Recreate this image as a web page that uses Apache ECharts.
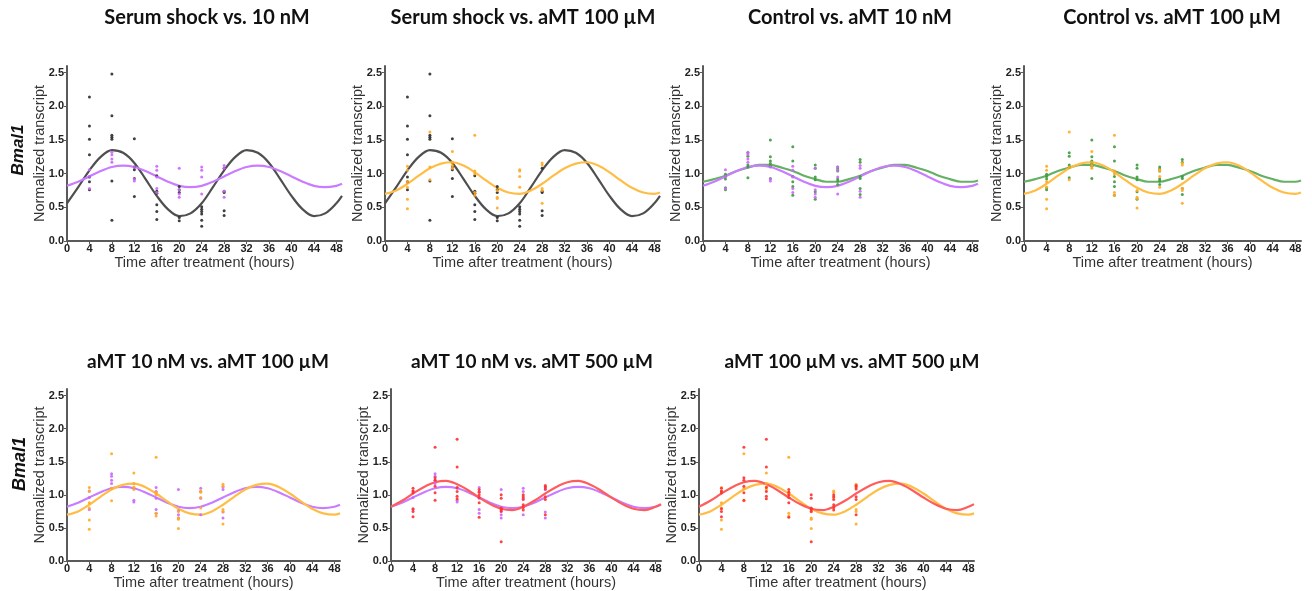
<!DOCTYPE html>
<html><head><meta charset="utf-8">
<script src="https://cdn.jsdelivr.net/npm/echarts@6/dist/echarts.min.js"></script>
<style>html,body{margin:0;padding:0;background:#fff}#c{width:1312px;height:591px}</style>
</head><body><div id="c"></div>
<script>
// ---- data ----
const sampleHours = [4, 8, 12, 16, 20, 24, 28];

const serumShockPts = [
  [2.14, 1.71, 1.51, 1.28, 0.95, 0.88, 0.76],
  [2.48, 1.86, 1.57, 1.54, 1.51, 0.89, 0.31],
  [1.52, 1.10, 1.06, 0.93, 0.66],
  [0.97, 0.74, 0.71, 0.54, 0.44, 0.32],
  [0.81, 0.76, 0.72, 0.35, 0.30],
  [0.51, 0.47, 0.44, 0.40, 0.31, 0.22],
  [1.08, 0.74, 0.72, 0.45, 0.38]
];
const aMT10nMPts = [
  [1.06, 0.96, 0.78],
  [1.32, 1.28, 1.22, 1.17],
  [1.10, 0.92, 0.89],
  [1.11, 1.05, 0.95, 0.78, 0.72],
  [1.08, 0.76, 0.70, 0.65],
  [1.10, 1.05, 0.95, 0.70],
  [1.12, 1.08, 0.74, 0.65]
];
const aMT100uMPts = [
  [1.11, 1.05, 0.88, 0.80, 0.62, 0.48],
  [1.62, 1.10, 0.91],
  [1.33, 1.17, 1.12, 1.08],
  [1.57, 1.04, 1.00, 0.72, 0.68],
  [0.75, 0.65, 0.63, 0.49],
  [1.06, 1.04, 0.96, 0.80],
  [1.16, 1.13, 0.78, 0.75, 0.56]
];
const controlPts = [
  [0.99, 0.96, 0.92, 0.79, 0.76],
  [1.31, 1.26, 1.13, 1.10, 0.94],
  [1.50, 1.25, 1.19, 1.15, 1.11, 0.93],
  [1.40, 1.19, 0.96, 0.88, 0.81, 0.68],
  [1.13, 1.08, 0.95, 0.91, 0.73, 0.62],
  [1.10, 1.07, 1.04, 0.92, 0.89, 0.84],
  [1.21, 1.17, 0.96, 0.93, 0.78, 0.69]
];
const aMT500uMPts = [
  [1.10, 1.06, 1.03, 0.79, 0.75, 0.67],
  [1.72, 1.26, 1.22, 1.13, 1.03, 0.92],
  [1.84, 1.42, 1.11, 1.05, 0.98, 0.94],
  [1.08, 1.04, 1.00, 0.96, 0.88, 0.66],
  [1.00, 0.95, 0.80, 0.78, 0.75, 0.29],
  [1.00, 0.97, 0.93, 0.85, 0.81, 0.77],
  [1.14, 1.12, 1.09, 0.97, 0.93, 0.70]
];

// fitted curves, read every 2 hours (plus the axis end at 49 h)
const fitHours = [0, 2, 4, 6, 8, 10, 12, 14, 16, 18, 20, 22, 24, 26, 28, 30, 32, 34, 36, 38, 40, 42, 44, 46, 48, 49];
const serumShockFit = [0.56, 0.80, 1.05, 1.25, 1.35, 1.31, 1.16, 0.92, 0.67, 0.47, 0.37, 0.41, 0.56, 0.80, 1.05, 1.25, 1.35, 1.31, 1.16, 0.92, 0.67, 0.47, 0.37, 0.41, 0.56, 0.67];
const aMT10nMFit = [0.82, 0.88, 0.96, 1.04, 1.10, 1.12, 1.10, 1.04, 0.96, 0.88, 0.82, 0.80, 0.82, 0.88, 0.96, 1.04, 1.10, 1.12, 1.10, 1.04, 0.96, 0.88, 0.82, 0.80, 0.82, 0.85];
const aMT100uMFit = [0.70, 0.75, 0.85, 0.97, 1.08, 1.15, 1.17, 1.12, 1.02, 0.90, 0.79, 0.72, 0.70, 0.75, 0.85, 0.97, 1.08, 1.15, 1.17, 1.12, 1.02, 0.90, 0.79, 0.72, 0.70, 0.72];
const controlFit = [0.88, 0.92, 0.97, 1.04, 1.09, 1.13, 1.13, 1.09, 1.04, 0.97, 0.92, 0.88, 0.88, 0.92, 0.97, 1.04, 1.09, 1.13, 1.13, 1.09, 1.04, 0.97, 0.92, 0.88, 0.88, 0.90];
const aMT500uMFit = [0.82, 0.91, 1.02, 1.12, 1.19, 1.21, 1.16, 1.07, 0.96, 0.86, 0.79, 0.77, 0.82, 0.91, 1.02, 1.12, 1.19, 1.21, 1.16, 1.07, 0.96, 0.86, 0.79, 0.77, 0.82, 0.86];

const xTicks = [0, 4, 8, 12, 16, 20, 24, 28, 32, 36, 40, 44, 48];
const yTicks = [0, 0.5, 1.0, 1.5, 2.0, 2.5];

const panelTitles = [
  'Serum shock vs. 10 nM',
  'Serum shock vs. aMT 100 µM',
  'Control vs. aMT 10 nM',
  'Control vs. aMT 100 µM',
  'aMT 10 nM vs. aMT 100 µM',
  'aMT 10 nM vs. aMT 500 µM',
  'aMT 100 µM vs. aMT 500 µM'
];
const panelPairs = [
  ['serum', 'nM10'], ['serum', 'uM100'], ['control', 'nM10'], ['control', 'uM100'],
  ['nM10', 'uM100'], ['nM10', 'uM500'], ['uM100', 'uM500']
];
const geneName = 'Bmal1';
const xName = 'Time after treatment (hours)';
const yName = 'Normalized transcript';

// ---- styling / layout ----
const groups = {
  serum:   { pts: serumShockPts, fit: serumShockFit, dot: '#2b2b2b', line: '#4f4f4f' },
  nM10:    { pts: aMT10nMPts,    fit: aMT10nMFit,    dot: '#cc66ff', line: '#c97cff' },
  uM100:   { pts: aMT100uMPts,   fit: aMT100uMFit,   dot: '#ffaa22', line: '#ffbd45' },
  control: { pts: controlPts,    fit: controlFit,    dot: '#3c9a3c', line: '#66b066' },
  uM500:   { pts: aMT500uMPts,   fit: aMT500uMFit,   dot: '#ff3030', line: '#ff5c5c' }
};
const layout = [
  { l: 67,   t: 66,  w: 275, h: 175, tx: 207, ty: 18, fs: 20 },
  { l: 385,  t: 66,  w: 275, h: 175, tx: 523, ty: 18, fs: 20 },
  { l: 703,  t: 66,  w: 275, h: 175, tx: 850, ty: 18, fs: 20 },
  { l: 1024, t: 66,  w: 277, h: 175, tx: 1172, ty: 18, fs: 20 },
  { l: 67,   t: 389, w: 273, h: 174, tx: 208, ty: 362, fs: 19 },
  { l: 391,  t: 389, w: 270, h: 174, tx: 532, ty: 362, fs: 19 },
  { l: 699,  t: 389, w: 275, h: 174, tx: 852, ty: 362, fs: 19 }
];

const option = { animation: false, backgroundColor: '#fff', grid: [], xAxis: [], yAxis: [], series: [], graphic: [] };
const axisColor = '#5a5a5a';
const tickFont = { fontFamily: 'Liberation Sans, Arial, sans-serif', fontWeight: 'bold', fontSize: 11, color: '#222' };

layout.forEach((g, i) => {
  option.grid.push({ left: g.l, top: g.t, width: g.w, height: g.h, containLabel: false });
  option.xAxis.push({
    type: 'value', gridIndex: i, min: 0, max: 49,
    name: xName, nameLocation: 'middle', nameGap: 14,
    nameTextStyle: { fontFamily: 'Liberation Sans, Arial, sans-serif', fontSize: 14.5, color: '#333' },
    axisLine: { onZero: false, lineStyle: { color: axisColor, width: 2 } },
    axisTick: { customValues: xTicks, length: 3, lineStyle: { color: axisColor } },
    axisLabel: Object.assign({ customValues: xTicks, margin: 2 }, tickFont),
    splitLine: { show: false }
  });
  option.yAxis.push({
    type: 'value', gridIndex: i, min: 0, max: 2.6,
    name: yName, nameLocation: 'middle', nameGap: 20, nameMoveOverlap: false,
    nameTextStyle: { fontFamily: 'Liberation Sans, Arial, sans-serif', fontSize: 14.5, color: '#333' },
    axisLine: { show: true, onZero: false, lineStyle: { color: axisColor, width: 2 } },
    axisTick: { show: true, customValues: yTicks, length: 3, lineStyle: { color: axisColor } },
    axisLabel: Object.assign({ customValues: yTicks, margin: 3, formatter: v => v.toFixed(1) }, tickFont),
    splitLine: { show: false }
  });
  option.graphic.push({
    type: 'text', x: g.tx, y: g.ty,
    style: { text: panelTitles[i], align: 'center', verticalAlign: 'middle',
      font: 'bold ' + g.fs + 'px Lato, "Open Sans", sans-serif', fill: '#111' }
  });
  panelPairs[i].forEach(key => {
    const d = groups[key];
    const fitData = fitHours.map((h, k) => [h, d.fit[k]]);
    option.series.push({
      type: 'line', xAxisIndex: i, yAxisIndex: i, data: fitData, smooth: 0.35,
      showSymbol: false, symbol: 'none', silent: true,
      lineStyle: { color: d.line, width: 2.2 }, z: 2
    });
  });
  panelPairs[i].forEach(key => {
    const d = groups[key];
    const pts = [];
    sampleHours.forEach((h, k) => d.pts[k].forEach(v => pts.push([h, v])));
    option.series.push({
      type: 'scatter', xAxisIndex: i, yAxisIndex: i, data: pts,
      symbol: 'circle', symbolSize: 3, itemStyle: { color: d.dot, opacity: 0.9 }, silent: true, z: 3
    });
  });
});

// row labels (gene name)
[{ x: 18, y: 150, s: 17 }, { x: 20, y: 464, s: 18 }].forEach(p => {
  option.graphic.push({
    type: 'text', x: p.x, y: p.y, rotation: Math.PI / 2,
    style: { text: geneName, align: 'center', verticalAlign: 'middle',
      font: 'italic bold ' + p.s + 'px "Liberation Sans", Arial, sans-serif', fill: '#111' }
  });
});

const chart = echarts.init(document.getElementById('c'), null, { renderer: 'canvas', width: 1312, height: 591 });
chart.setOption(option);
</script>
</body></html>
